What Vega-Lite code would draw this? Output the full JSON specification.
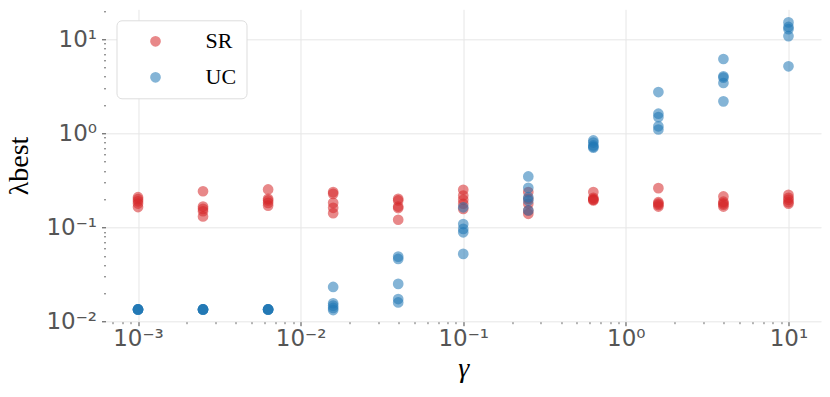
{
  "$schema": "https://vega.github.io/schema/vega-lite/v6.json",
  "autosize": "none",
  "padding": {"left": 105.5, "top": 9.3, "right": 9, "bottom": 75.6},
  "width": 715.5,
  "height": 312.4,
  "background": "white",
  "config": {"view": {"stroke": null}},
  "data": {"values": [
    {"g":0.001,"m":"SR","v":0.21},{"g":0.001,"m":"SR","v":0.20},{"g":0.001,"m":"SR","v":0.19},{"g":0.001,"m":"SR","v":0.18},{"g":0.001,"m":"SR","v":0.165},
    {"g":0.00251,"m":"SR","v":0.243},{"g":0.00251,"m":"SR","v":0.167},{"g":0.00251,"m":"SR","v":0.158},{"g":0.00251,"m":"SR","v":0.149},{"g":0.00251,"m":"SR","v":0.131},
    {"g":0.00631,"m":"SR","v":0.254},{"g":0.00631,"m":"SR","v":0.202},{"g":0.00631,"m":"SR","v":0.194},{"g":0.00631,"m":"SR","v":0.183},{"g":0.00631,"m":"SR","v":0.171},
    {"g":0.01585,"m":"SR","v":0.238},{"g":0.01585,"m":"SR","v":0.228},{"g":0.01585,"m":"SR","v":0.183},{"g":0.01585,"m":"SR","v":0.162},{"g":0.01585,"m":"SR","v":0.142},
    {"g":0.03981,"m":"SR","v":0.202},{"g":0.03981,"m":"SR","v":0.194},{"g":0.03981,"m":"SR","v":0.167},{"g":0.03981,"m":"SR","v":0.161},{"g":0.03981,"m":"SR","v":0.121},
    {"g":0.1,"m":"SR","v":0.252},{"g":0.1,"m":"SR","v":0.219},{"g":0.1,"m":"SR","v":0.197},{"g":0.1,"m":"SR","v":0.179},{"g":0.1,"m":"SR","v":0.158},
    {"g":0.2512,"m":"SR","v":0.238},{"g":0.2512,"m":"SR","v":0.202},{"g":0.2512,"m":"SR","v":0.179},{"g":0.2512,"m":"SR","v":0.152},{"g":0.2512,"m":"SR","v":0.140},
    {"g":0.631,"m":"SR","v":0.238},{"g":0.631,"m":"SR","v":0.207},{"g":0.631,"m":"SR","v":0.200},{"g":0.631,"m":"SR","v":0.197},{"g":0.631,"m":"SR","v":0.194},
    {"g":1.585,"m":"SR","v":0.262},{"g":1.585,"m":"SR","v":0.186},{"g":1.585,"m":"SR","v":0.180},{"g":1.585,"m":"SR","v":0.174},{"g":1.585,"m":"SR","v":0.167},
    {"g":3.981,"m":"SR","v":0.214},{"g":3.981,"m":"SR","v":0.188},{"g":3.981,"m":"SR","v":0.181},{"g":3.981,"m":"SR","v":0.175},{"g":3.981,"m":"SR","v":0.167},
    {"g":10,"m":"SR","v":0.223},{"g":10,"m":"SR","v":0.207},{"g":10,"m":"SR","v":0.197},{"g":10,"m":"SR","v":0.186},{"g":10,"m":"SR","v":0.179},
    {"g":0.001,"m":"UC","v":0.0135},{"g":0.001,"m":"UC","v":0.0135},{"g":0.001,"m":"UC","v":0.0135},{"g":0.001,"m":"UC","v":0.0135},{"g":0.001,"m":"UC","v":0.0135},
    {"g":0.00251,"m":"UC","v":0.0135},{"g":0.00251,"m":"UC","v":0.0135},{"g":0.00251,"m":"UC","v":0.0135},{"g":0.00251,"m":"UC","v":0.0135},{"g":0.00251,"m":"UC","v":0.0135},
    {"g":0.00631,"m":"UC","v":0.0135},{"g":0.00631,"m":"UC","v":0.0135},{"g":0.00631,"m":"UC","v":0.0135},{"g":0.00631,"m":"UC","v":0.0135},{"g":0.00631,"m":"UC","v":0.0135},
    {"g":0.01585,"m":"UC","v":0.0234},{"g":0.01585,"m":"UC","v":0.0157},{"g":0.01585,"m":"UC","v":0.0148},{"g":0.01585,"m":"UC","v":0.0140},{"g":0.01585,"m":"UC","v":0.0133},
    {"g":0.03981,"m":"UC","v":0.0491},{"g":0.03981,"m":"UC","v":0.0464},{"g":0.03981,"m":"UC","v":0.0252},{"g":0.03981,"m":"UC","v":0.0174},{"g":0.03981,"m":"UC","v":0.0160},
    {"g":0.1,"m":"UC","v":0.164},{"g":0.1,"m":"UC","v":0.109},{"g":0.1,"m":"UC","v":0.0968},{"g":0.1,"m":"UC","v":0.0891},{"g":0.1,"m":"UC","v":0.0525},
    {"g":0.2512,"m":"UC","v":0.349},{"g":0.2512,"m":"UC","v":0.264},{"g":0.2512,"m":"UC","v":0.210},{"g":0.2512,"m":"UC","v":0.194},{"g":0.2512,"m":"UC","v":0.152},
    {"g":0.631,"m":"UC","v":0.842},{"g":0.631,"m":"UC","v":0.80},{"g":0.631,"m":"UC","v":0.745},{"g":0.631,"m":"UC","v":0.72},{"g":0.631,"m":"UC","v":0.705},
    {"g":1.585,"m":"UC","v":2.75},{"g":1.585,"m":"UC","v":1.62},{"g":1.585,"m":"UC","v":1.49},{"g":1.585,"m":"UC","v":1.19},{"g":1.585,"m":"UC","v":1.10},
    {"g":3.981,"m":"UC","v":6.17},{"g":3.981,"m":"UC","v":4.04},{"g":3.981,"m":"UC","v":3.91},{"g":3.981,"m":"UC","v":3.43},{"g":3.981,"m":"UC","v":2.19},
    {"g":10,"m":"UC","v":15.1},{"g":10,"m":"UC","v":13.5},{"g":10,"m":"UC","v":12.8},{"g":10,"m":"UC","v":10.8},{"g":10,"m":"UC","v":5.16}
  ]},
  "mark": {"type": "circle", "size": 115, "opacity": 0.55, "clip": true},
  "encoding": {
    "x": {
      "field": "g", "type": "quantitative",
      "scale": {"type": "log", "domain": [0.000631, 15.85], "nice": false},
      "axis": {
        "title": "γ",
        "titleFont": "Liberation Serif", "titleFontSize": 28, "titleFontWeight": "normal", "titleColor": "black", "titleFontStyle": "italic",
        "titlePadding": 4,
        "values": [0.0007,0.0008,0.0009,0.001,0.002,0.003,0.004,0.005,0.006,0.007,0.008,0.009,0.01,0.02,0.03,0.04,0.05,0.06,0.07,0.08,0.09,0.1,0.2,0.3,0.4,0.5,0.6,0.7,0.8,0.9,1,2,3,4,5,6,7,8,9,10],
        "labelExpr": "round(log(datum.value)/LN10) == -3 && abs(log(datum.value)/LN10 + 3) < 1e-6 ? '10⁻³' : (round(log(datum.value)/LN10) == -2 && abs(log(datum.value)/LN10 + 2) < 1e-6 ? '10⁻²' : (round(log(datum.value)/LN10) == -1 && abs(log(datum.value)/LN10 + 1) < 1e-6 ? '10⁻¹' : (abs(log(datum.value)/LN10) < 1e-6 ? '10⁰' : (abs(log(datum.value)/LN10 - 1) < 1e-6 ? '10¹' : ''))))",
        "labelFont": "DejaVu Sans", "labelFontSize": 23, "labelColor": "#555555",
        "labelOverlap": false, "labelFlush": false, "labelPadding": 2,
        "domain": false,
        "grid": true,
        "gridColor": "#e6e6e6", "gridWidth": 1,
        "gridOpacity": {"condition": {"test": "abs(log(datum.value)/LN10 - round(log(datum.value)/LN10)) < 1e-6", "value": 1}, "value": 0},
        "tickColor": "#444444",
        "tickSize": {"condition": {"test": "abs(log(datum.value)/LN10 - round(log(datum.value)/LN10)) < 1e-6", "value": 4}, "value": 2},
        "tickWidth": {"condition": {"test": "abs(log(datum.value)/LN10 - round(log(datum.value)/LN10)) < 1e-6", "value": 1}, "value": 0.8}
      }
    },
    "y": {
      "field": "v", "type": "quantitative",
      "scale": {"type": "log", "domain": [0.01, 20.8], "nice": false},
      "axis": {
        "title": "λbest",
        "titleFont": "Liberation Serif", "titleFontSize": 28, "titleFontWeight": "normal", "titleColor": "black",
        "titlePadding": 12,
        "values": [0.01,0.02,0.03,0.04,0.05,0.06,0.07,0.08,0.09,0.1,0.2,0.3,0.4,0.5,0.6,0.7,0.8,0.9,1,2,3,4,5,6,7,8,9,10,20],
        "labelExpr": "round(log(datum.value)/LN10) == -2 && abs(log(datum.value)/LN10 + 2) < 1e-6 ? '10⁻²' : (round(log(datum.value)/LN10) == -1 && abs(log(datum.value)/LN10 + 1) < 1e-6 ? '10⁻¹' : (abs(log(datum.value)/LN10) < 1e-6 ? '10⁰' : (abs(log(datum.value)/LN10 - 1) < 1e-6 ? '10¹' : '')))",
        "labelFont": "DejaVu Sans", "labelFontSize": 23, "labelColor": "#555555",
        "labelOverlap": false, "labelFlush": false, "labelPadding": 5,
        "domain": false,
        "grid": true,
        "gridColor": "#e6e6e6", "gridWidth": 1,
        "gridOpacity": {"condition": {"test": "abs(log(datum.value)/LN10 - round(log(datum.value)/LN10)) < 1e-6", "value": 1}, "value": 0},
        "tickColor": "#444444",
        "tickSize": {"condition": {"test": "abs(log(datum.value)/LN10 - round(log(datum.value)/LN10)) < 1e-6", "value": 4}, "value": 2},
        "tickWidth": {"condition": {"test": "abs(log(datum.value)/LN10 - round(log(datum.value)/LN10)) < 1e-6", "value": 1}, "value": 0.8}
      }
    },
    "color": {
      "field": "m", "type": "nominal",
      "scale": {"domain": ["SR", "UC"], "range": ["#d62728", "#1f77b4"]},
      "legend": {
        "title": null,
        "orient": "top-left", "offset": 11,
        "padding": 10, "strokeColor": "#dddddd", "fillColor": "white", "cornerRadius": 5,
        "symbolType": "circle", "symbolSize": 115, "symbolOpacity": 0.55, "symbolStrokeWidth": 0,
        "symbolOffset": 18, "labelOffset": 39, "rowPadding": 14,
        "labelFont": "Liberation Serif", "labelFontSize": 22, "labelColor": "black"
      }
    }
  }
}
